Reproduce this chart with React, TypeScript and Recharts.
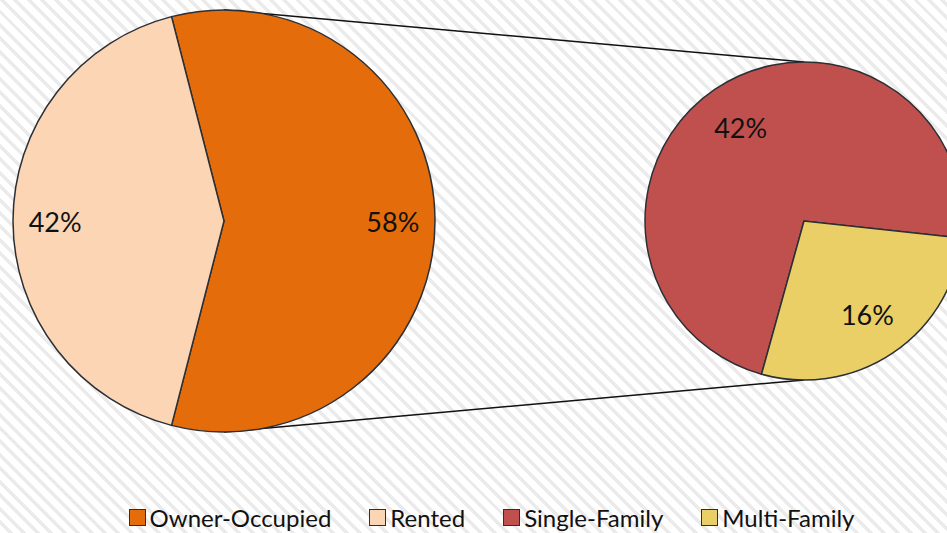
import React from "react";
import { PieChart, Pie, Cell, Legend } from "recharts";

const W = 947;
const H = 533;

// left pie: tenure split, right pie: breakdown of the 58% owner-occupied
const tenureNames = ["Owner-Occupied", "Rented"];
const tenureValues = [58, 42];
const typeNames = ["Single-Family", "Multi-Family"];
const typeValues = [42, 16];
const legendOrder = [...tenureNames, ...typeNames];

const COLORS = ["#E46C0A", "#FCD5B5", "#C0504D", "#E9CF66"];
const FONT = "Lato, 'Open Sans', sans-serif";
const STROKE = "#2B2F36";

const LEFT = { cx: 224, cy: 221, r: 211 };
const RIGHT = { cx: 804, cy: 221, r: 159 };

const tenureData = tenureNames.map((name, i) => ({ name, value: tenureValues[i] }));
const typeData = typeNames.map((name, i) => ({ name, value: typeValues[i] }));

const RAD = Math.PI / 180;

function makeLabel(ratio: number) {
  // eslint-disable-next-line @typescript-eslint/no-explicit-any
  return (props: any) => {
    const { cx, cy, midAngle, outerRadius, value } = props;
    const d = outerRadius * ratio;
    const x = cx + d * Math.cos(-midAngle * RAD);
    const y = cy + d * Math.sin(-midAngle * RAD);
    return (
      <text
        x={x}
        y={y}
        textAnchor="middle"
        dominantBaseline="central"
        fill="#111"
        fontSize={27}
        fontFamily={FONT}
      >
        {`${value}%`}
      </text>
    );
  };
}

// eslint-disable-next-line @typescript-eslint/no-explicit-any
function LegendContent(props: any) {
  // eslint-disable-next-line @typescript-eslint/no-explicit-any
  const items = [...(props.payload || [])].sort((a: any, b: any) =>
    legendOrder.indexOf(a.value) - legendOrder.indexOf(b.value)
  );
  return (
    <div
      style={{
        display: "flex",
        justifyContent: "center",
        gap: 38,
        paddingLeft: 36,
        fontFamily: FONT,
        fontSize: 24,
        color: "#111",
      }}
    >
      {/* eslint-disable-next-line @typescript-eslint/no-explicit-any */}
      {items.map((it: any, i: number) => (
        <div key={i} style={{ display: "flex", alignItems: "center", gap: 4 }}>
          <span
            style={{
              display: "inline-block",
              width: 15,
              height: 15,
              background: it.color,
              border: `1.5px solid ${STROKE}`,
            }}
          />
          <span>{it.value}</span>
        </div>
      ))}
    </div>
  );
}

export default function App() {
  const leftTopY = LEFT.cy - LEFT.r;
  const leftBotY = LEFT.cy + LEFT.r;
  const rightTopY = RIGHT.cy - RIGHT.r;
  const rightBotY = RIGHT.cy + RIGHT.r;
  return (
    <div
      style={{
        position: "fixed",
        left: 0,
        top: 0,
        width: W,
        height: H,
        overflow: "hidden",
        background:
          "repeating-linear-gradient(45deg, #ffffff 0px, #ffffff 6px, #ebebeb 6px, #ebebeb 9.5px)",
      }}
    >
      <svg width={W} height={H} style={{ position: "absolute", left: 0, top: 0 }}>
        <line x1={LEFT.cx} y1={leftTopY} x2={RIGHT.cx} y2={rightTopY} stroke="#111" strokeWidth={1.5} />
        <line x1={LEFT.cx} y1={leftBotY} x2={RIGHT.cx} y2={rightBotY} stroke="#111" strokeWidth={1.5} />
      </svg>
      <div style={{ position: "absolute", left: 0, top: 0 }}>
        <PieChart width={W} height={H} margin={{ top: 0, right: 0, bottom: 0, left: 0 }}>
          <Pie
            data={tenureData}
            dataKey="value"
            nameKey="name"
            cx={LEFT.cx}
            cy={LEFT.cy}
            outerRadius={LEFT.r}
            startAngle={104.4}
            endAngle={-255.6}
            stroke={STROKE}
            strokeWidth={1.5}
            label={makeLabel(0.8)}
            labelLine={false}
            isAnimationActive={false}
          >
            {tenureData.map((_, i) => (
              <Cell key={i} fill={COLORS[i]} />
            ))}
          </Pie>
          <Pie
            data={typeData}
            dataKey="value"
            nameKey="name"
            cx={RIGHT.cx}
            cy={RIGHT.cy}
            outerRadius={RIGHT.r}
            startAngle={254.5}
            endAngle={-105.5}
            stroke={STROKE}
            strokeWidth={1.5}
            label={makeLabel(0.71)}
            labelLine={false}
            isAnimationActive={false}
          >
            {typeData.map((_, i) => (
              <Cell key={i} fill={COLORS[i + 2]} />
            ))}
          </Pie>
          <Legend
            content={<LegendContent />}
            wrapperStyle={{ position: "absolute", left: 0, top: 503, width: W }}
          />
        </PieChart>
      </div>
    </div>
  );
}
